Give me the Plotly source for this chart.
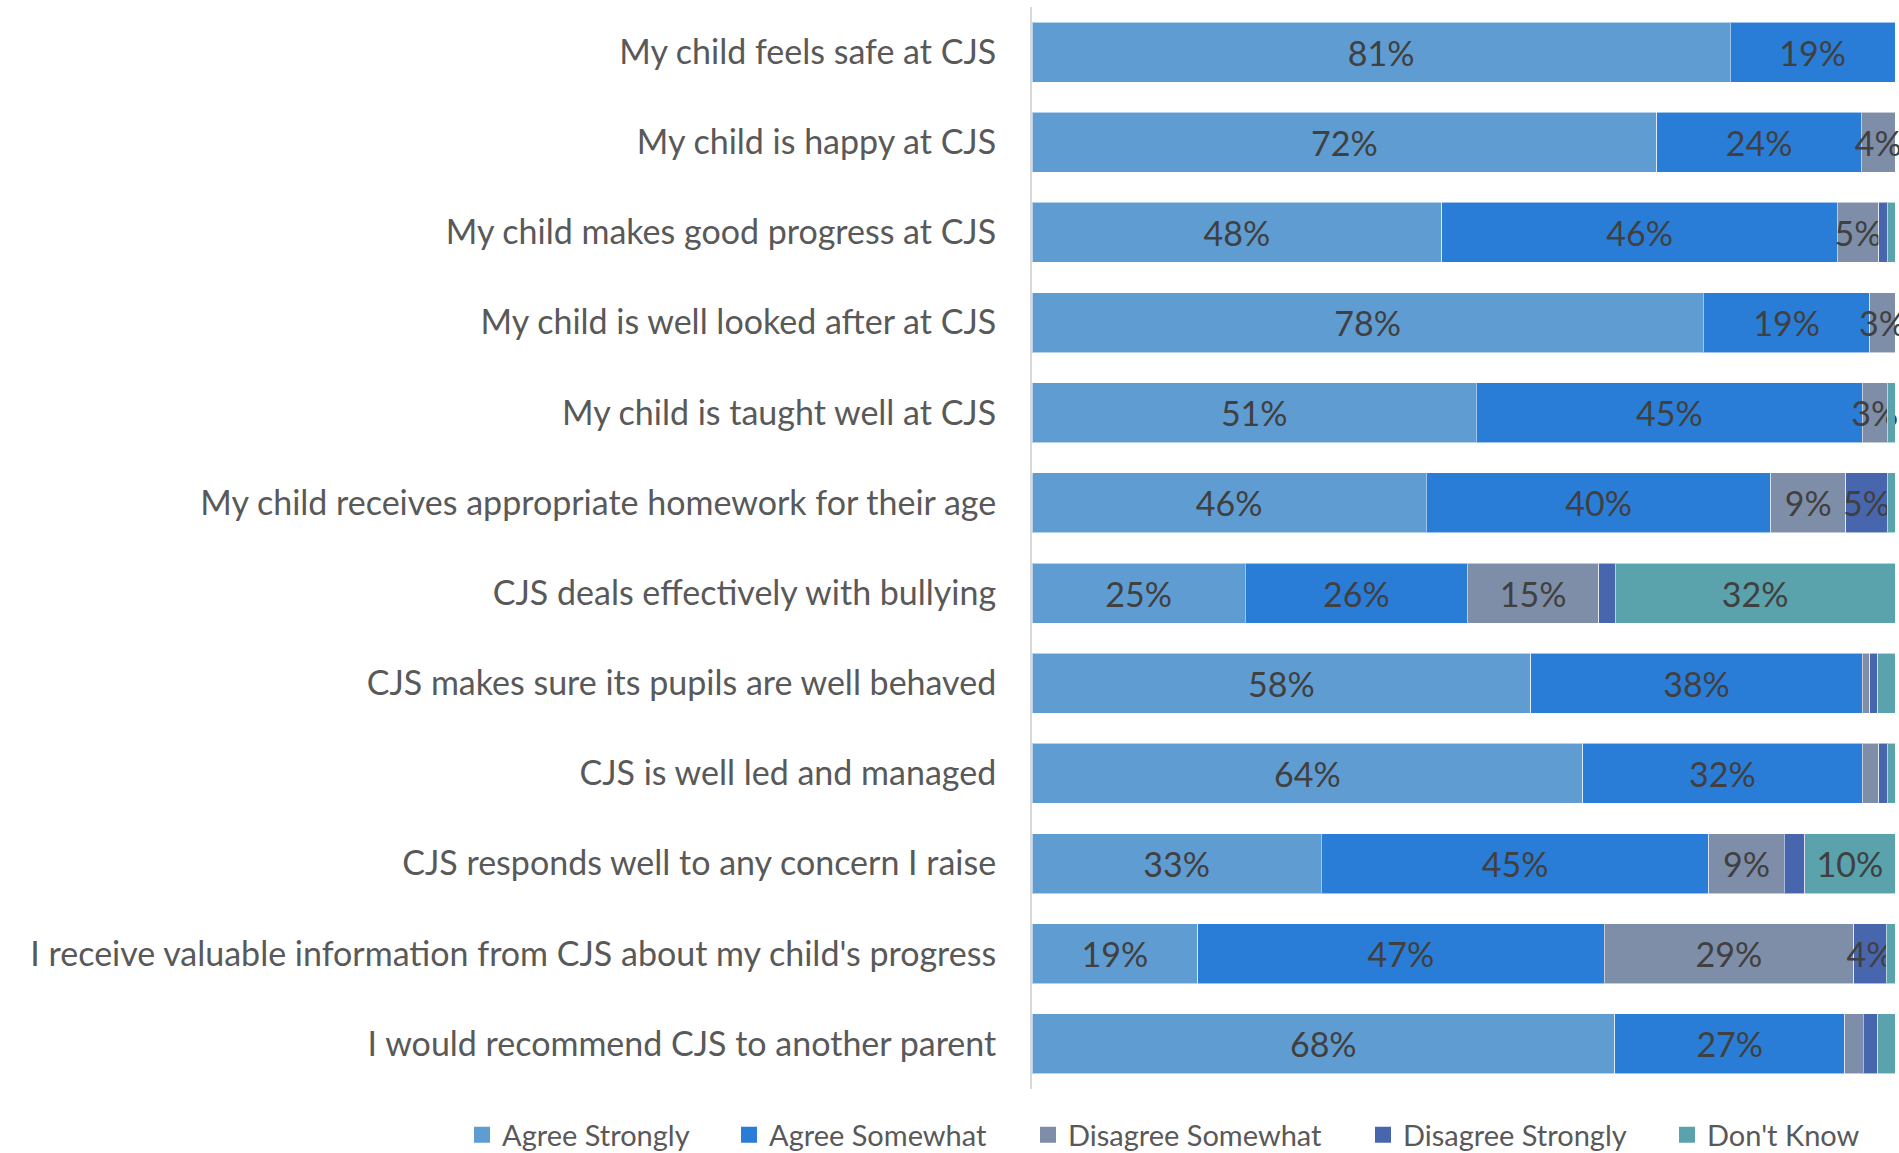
import plotly.graph_objects as go

categories = [
    "My child feels safe at CJS",
    "My child is happy at CJS",
    "My child makes good progress at CJS",
    "My child is well looked after at CJS",
    "My child is taught well at CJS",
    "My child receives appropriate homework for their age",
    "CJS deals effectively with bullying",
    "CJS makes sure its pupils are well behaved",
    "CJS is well led and managed",
    "CJS responds well to any concern I raise",
    "I receive valuable information from CJS about my child's progress",
    "I would recommend CJS to another parent",
]

agree_strongly    = [80.9, 72.4, 47.5, 77.8, 51.4, 45.7, 24.7, 57.8, 63.8, 33.4, 19.2, 67.5]
agree_somewhat    = [19.1, 23.7, 45.8, 19.3, 44.6, 39.9, 25.7, 38.4, 32.4, 44.7, 47.1, 26.7]
disagree_somewhat = [0.0,  3.9,  4.8,  2.9,  2.9,  8.7,  15.2, 0.9,  1.9,  8.7,  28.9, 2.1]
disagree_strongly = [0.0,  0.0,  1.0,  0.0,  0.0,  4.8,  1.9,  0.9,  1.0,  2.4,  3.8,  1.7]
dont_know         = [0.0,  0.0,  0.9,  0.0,  0.9,  0.9,  32.4, 2.0,  0.9,  10.4, 1.0,  2.0]

series_names = ["Agree Strongly", "Agree Somewhat", "Disagree Somewhat", "Disagree Strongly", "Don't Know"]
series_values = [agree_strongly, agree_somewhat, disagree_somewhat, disagree_strongly, dont_know]
series_colors = ["#5F9CD2", "#2A7DD6", "#7F8EA8", "#4866AE", "#5AA2AC"]

FONT = "Lato"
W, H = 1899, 1153
ML, MR, MT, MB = 1032, 4, 7, 64
plot_w = W - ML - MR
plot_h = H - MT - MB

# legend entry text start positions (pixels from left of figure)
legend_text_px = [502, 769, 1068, 1403, 1707]
legend_ids = ["legend", "legend2", "legend3", "legend4", "legend5"]

fig = go.Figure()
for name, vals, col in zip(series_names, series_values, series_colors):
    texts = [f"{round(v)}%" if round(v) >= 3 else "" for v in vals]
    fig.add_trace(go.Bar(
        y=categories, x=vals, name=name, orientation="h", showlegend=False,
        marker=dict(color=col, line=dict(color="rgba(255,255,255,0.55)", width=1)),
        text=texts, textposition="inside", insidetextanchor="middle",
        textangle=0, constraintext="none", cliponaxis=False,
        textfont=dict(family=FONT, size=34, color="#404040"),
        hoverinfo="x+y+name",
    ))

# legend-only entries with larger square swatches
for name, col, lid in zip(series_names, series_colors, legend_ids):
    fig.add_trace(go.Scatter(
        x=[None], y=[None], mode="markers", name=name, legend=lid,
        marker=dict(symbol="square", size=16, color=col),
        showlegend=True, hoverinfo="skip",
    ))

legend_y = -(1135 - (H - MB)) / plot_h
layout_legends = {}
for lid, tx in zip(legend_ids, legend_text_px):
    layout_legends[lid] = dict(
        orientation="h", x=(tx - 40 - ML) / plot_w, xanchor="left",
        y=legend_y, yanchor="middle",
        font=dict(family=FONT, size=29, color="#595959"),
        bgcolor="rgba(0,0,0,0)", itemclick=False, itemdoubleclick=False,
    )

fig.update_layout(
    barmode="stack", barnorm="percent", bargap=0.335,
    width=W, height=H,
    margin=dict(l=ML, r=MR, t=MT, b=MB, autoexpand=False),
    plot_bgcolor="white", paper_bgcolor="white",
    font=dict(family=FONT, color="#595959"),
    showlegend=True,
    xaxis=dict(range=[0, 100], visible=False, fixedrange=True),
    yaxis=dict(
        type="category", categoryorder="array", categoryarray=categories,
        autorange="reversed", showgrid=False, zeroline=False,
        showline=True, linecolor="#D9D9D9", linewidth=2,
        ticks="", ticklabelstandoff=27,
        tickfont=dict(family=FONT, size=34, color="#595959"),
    ),
    **layout_legends,
)

fig.write_html(
    "out.html",
    config={"displayModeBar": False},
    post_script="document.body.style.margin='0';document.body.style.overflow='hidden';",
)
